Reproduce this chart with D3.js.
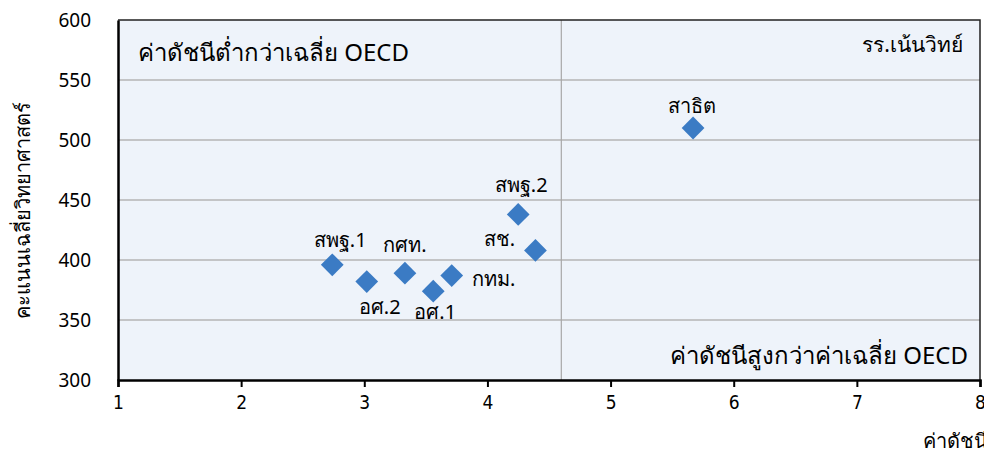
<!DOCTYPE html>
<html>
<head>
<meta charset="utf-8">
<script src="https://cdn.jsdelivr.net/npm/d3@7"></script>
<style>
  body { margin: 0; background: #fff; }
  text { font-family: Tahoma, "Noto Sans", "DejaVu Sans", sans-serif; fill: #000; }
</style>
</head>
<body>
<svg id="chart" width="984" height="455"></svg>
<script>
// school groups, PISA-style index vs science score
const groups = ['สพฐ.1', 'อศ.2', 'กศท.', 'อศ.1', 'กทม.', 'สพฐ.2', 'สช.', 'สาธิต'];
const indexVals = [2.74, 3.02, 3.33, 3.56, 3.71, 4.25, 4.39, 5.67];
const scoreVals = [396, 382, 389, 374, 387, 438, 408, 510];
// label offsets relative to the point (dx, dy of text baseline centre)
const labelDx = [8, 13, 0, 2, 42, 3, -36, -1];
const labelDy = [-18, 32, -21, 28, 10, -22, -4, -15];

const oecdAvg = 4.6;
const xTicks = [1, 2, 3, 4, 5, 6, 7, 8];
const yTicks = [300, 350, 400, 450, 500, 550, 600];

const svg = d3.select('#chart');
const margin = {left: 118, top: 20, right: 4, bottom: 75};
const width = 984 - margin.left - margin.right;
const height = 455 - margin.top - margin.bottom;

const chart = svg.append('g')
  .attr('transform', `translate(${margin.left}, ${margin.top})`);

const xScale = d3.scaleLinear().domain([1, 8]).range([0, width]);
const yScale = d3.scaleLinear().domain([300, 600]).range([height, 0]);

// plot background
chart.append('rect')
  .attr('width', width).attr('height', height)
  .attr('fill', '#eef3fa');

// horizontal grid
chart.append('g')
  .selectAll('line')
  .data(yTicks.slice(1, -1))
  .enter().append('line')
  .attr('x1', 0).attr('x2', width)
  .attr('y1', d => yScale(d)).attr('y2', d => yScale(d))
  .attr('stroke', '#b4b4b4').attr('stroke-width', 1.5);

// OECD average divider
chart.append('line')
  .attr('x1', xScale(oecdAvg)).attr('x2', xScale(oecdAvg))
  .attr('y1', 0).attr('y2', height)
  .attr('stroke', '#a8a8a8').attr('stroke-width', 1.2);

// top / right frame
chart.append('path')
  .attr('d', `M0,0H${width}V${height}`)
  .attr('fill', 'none').attr('stroke', '#222').attr('stroke-width', 1.5);

// axes
const xAxis = chart.append('g')
  .attr('transform', `translate(0, ${height})`)
  .call(d3.axisBottom(xScale).tickValues(xTicks).tickSize(7).tickPadding(9).tickFormat(d3.format('d')));
xAxis.select('.domain').attr('stroke', '#000').attr('stroke-width', 2.5);
xAxis.selectAll('.tick line').attr('stroke', '#000').attr('stroke-width', 2);
xAxis.selectAll('.tick text').attr('font-size', 19).style('font-family', '"Liberation Sans Narrow", "DejaVu Sans Condensed", sans-serif');

const yAxis = chart.append('g')
  .call(d3.axisLeft(yScale).tickValues(yTicks).tickSize(0).tickPadding(27));
yAxis.select('.domain').attr('stroke', '#000').attr('stroke-width', 2.5);
yAxis.selectAll('.tick text').attr('font-size', 19);

// quadrant captions
chart.append('text')
  .attr('x', 20).attr('y', 41)
  .attr('font-size', 24)
  .text('ค่าดัชนีต่ำกว่าเฉลี่ย OECD');
chart.append('text')
  .attr('x', width - 17).attr('y', 32)
  .attr('text-anchor', 'end').attr('font-size', 21)
  .text('รร.เน้นวิทย์');
chart.append('text')
  .attr('x', width - 12).attr('y', height - 16)
  .attr('text-anchor', 'end').attr('font-size', 24)
  .text('ค่าดัชนีสูงกว่าค่าเฉลี่ย OECD');

// points
const pts = groups.map((g, i) => ({g, x: indexVals[i], y: scoreVals[i], dx: labelDx[i], dy: labelDy[i]}));

chart.selectAll('.pt')
  .data(pts)
  .enter().append('path')
  .attr('class', 'pt')
  .attr('transform', d => `translate(${xScale(d.x)}, ${yScale(d.y)})`)
  .attr('d', d3.symbol().type(d3.symbolDiamond2).size(330))
  .attr('fill', '#3b7bc4');

chart.selectAll('.lbl')
  .data(pts)
  .enter().append('text')
  .attr('class', 'lbl')
  .attr('x', d => xScale(d.x) + d.dx)
  .attr('y', d => yScale(d.y) + d.dy)
  .attr('text-anchor', 'middle')
  .attr('font-size', 20)
  .text(d => d.g);

// axis titles
svg.append('text')
  .attr('transform', 'translate(30, 210) rotate(-90)')
  .attr('text-anchor', 'middle')
  .attr('font-size', 20)
  .text('คะแนนเฉลี่ยวิทยาศาสตร์');

svg.append('text')
  .attr('x', 988).attr('y', 448)
  .attr('text-anchor', 'end')
  .attr('font-size', 20)
  .text('ค่าดัชนี');
</script>
</body>
</html>
